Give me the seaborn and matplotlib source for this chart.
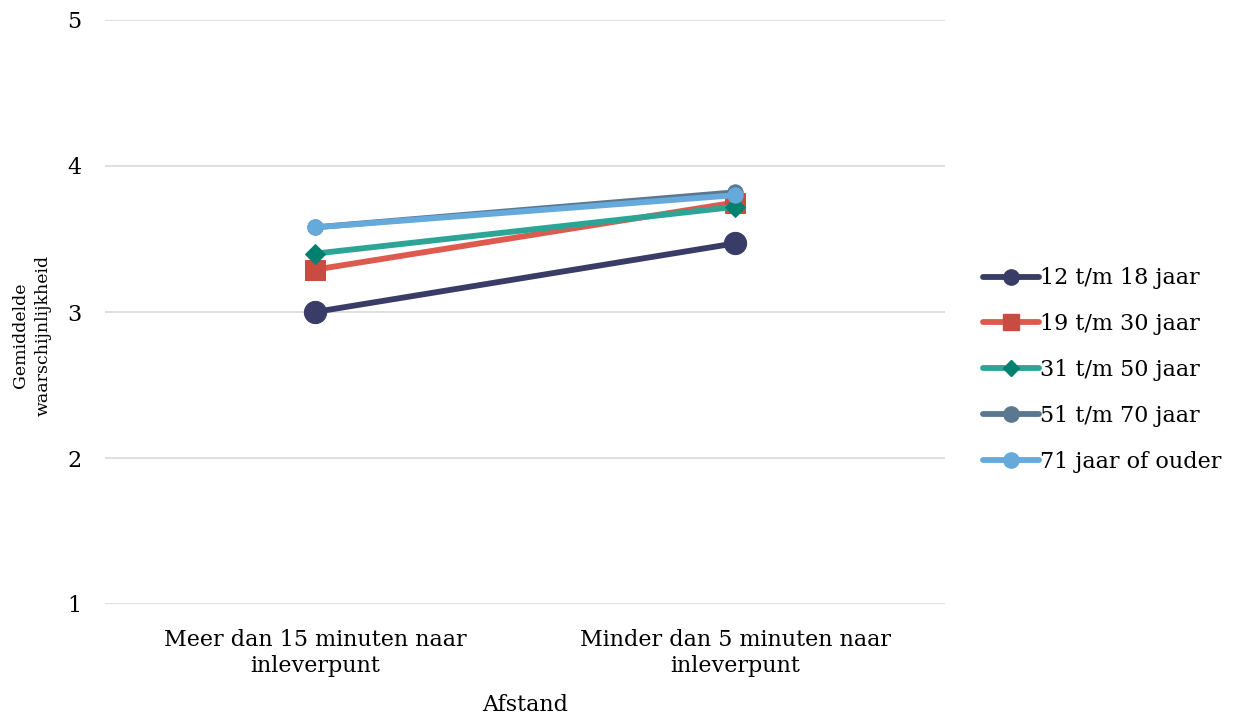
import matplotlib
matplotlib.use("Agg")
import matplotlib.pyplot as plt
import seaborn as sns
import pandas as pd

categories = ["Meer dan 15 minuten naar\ninleverpunt", "Minder dan 5 minuten naar\ninleverpunt"]
groups = ["12 t/m 18 jaar", "19 t/m 30 jaar", "31 t/m 50 jaar", "51 t/m 70 jaar", "71 jaar of ouder"]
v_12_18 = [3.00, 3.47]
v_19_30 = [3.29, 3.75]
v_31_50 = [3.40, 3.72]
v_51_70 = [3.58, 3.82]
v_71_plus = [3.58, 3.80]
yticks = [1, 2, 3, 4, 5]

series = [v_12_18, v_19_30, v_31_50, v_51_70, v_71_plus]
rows = []
for g, vals in zip(groups, series):
    for i, (c, v) in enumerate(zip(categories, vals)):
        rows.append({"Afstand": i, "cat": c, "Groep": g, "waarde": v})
df = pd.DataFrame(rows)

sns.set_theme(style="white")
plt.rcParams['font.family'] = ['DejaVu Serif']
plt.rcParams['text.color'] = 'black'
plt.rcParams['axes.labelcolor'] = 'black'
plt.rcParams['xtick.color'] = 'black'
plt.rcParams['ytick.color'] = 'black'

line_colors = ["#393c66", "#dc5b4e", "#2ca597", "#5a7890", "#66aadc"]
marker_face = ["#393c66", "#c94c42", "#00806f", "#5a7890", "#66aadc"]
markers = ["o", "s", "D", "o", "o"]
msizes = [16, 15, 10, 11, 11]

fig = plt.figure(figsize=(12.38, 7.16), dpi=100)
ax = fig.add_axes([105/1238, 1 - 604/716, 840/1238, 584/716])

for g, lc, mf, mk, ms in zip(groups, line_colors, marker_face, markers, msizes):
    sub = df[df["Groep"] == g]
    sns.lineplot(data=sub, x="Afstand", y="waarde", ax=ax, color=lc, linewidth=4.2,
                 marker=mk, markersize=ms, markerfacecolor=mf, markeredgecolor=mf,
                 label=g, legend=False)

ax.set_xlim(-0.5, 1.5)
ax.set_ylim(1, 5)
ax.set_yticks(yticks)
ax.set_yticklabels([str(t) for t in yticks], fontsize=16)
ax.set_xticks([0, 1])
ax.set_xticklabels(categories, fontsize=16, linespacing=1.25)
ax.tick_params(axis="x", length=0, pad=18)
ax.tick_params(axis="y", length=0, pad=17)
ax.grid(axis="y", color="#d9d9d9", linewidth=1.2)
ax.grid(axis="x", visible=False)
for s in ax.spines.values():
    s.set_visible(False)
ax.set_xlabel("Afstand", fontsize=16, labelpad=12)
ax.set_ylabel("")
fig.text(32/1238, 1 - 335/716, "Gemiddelde\nwaarschijnlijkheid", rotation=90,
         ha="center", va="center", fontsize=12.5, linespacing=1.45, multialignment="center")

from matplotlib.lines import Line2D
handles = [Line2D([], [], color=lc, linewidth=4.2, marker=mk, markersize=min(ms, 11) if mk != "D" else 8,
                  markerfacecolor=mf, markeredgecolor=mf)
           for lc, mf, mk, ms in zip(line_colors, marker_face, markers, msizes)]
fig.legend(handles, groups, loc="center left", bbox_to_anchor=(983/1238, 1 - 370/716),
           frameon=False, fontsize=16, handlelength=2.5, handletextpad=0.05,
           labelspacing=1.07, borderaxespad=0, borderpad=0)

fig.savefig("out.png", dpi=100)
